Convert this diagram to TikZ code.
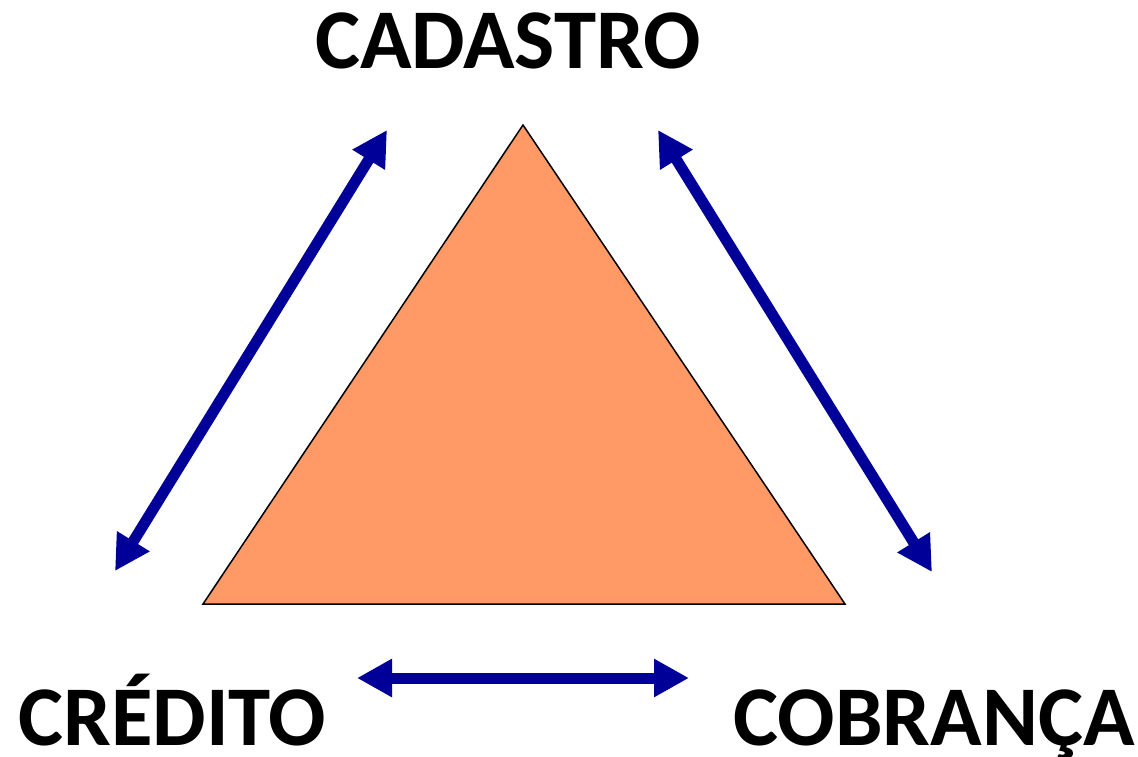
\documentclass[tikz,border=0pt]{standalone}
\usepackage{fontspec}
\setmainfont{Carlito}
\usetikzlibrary{arrows.meta}
\definecolor{arrowblue}{HTML}{000099}
\definecolor{trifill}{HTML}{FF9966}
\tikzset{
  dbl/.style={draw=arrowblue, line width=11pt, {Triangle[length=35pt,width=36pt]}-{Triangle[length=35pt,width=36pt]}, shorten <=0pt, shorten >=0pt},
  lbl/.style={font=\fontsize{85}{88}\selectfont\bfseries, inner sep=0pt, text=black}
}
\begin{document}
\begin{tikzpicture}[x=1pt,y=-1pt]
\useasboundingbox (0,0) rectangle (1138,756);
\coordinate (apex) at (523,125);
\coordinate (bl) at (203,604);
\coordinate (br) at (845,604);
\filldraw[fill=trifill, draw=black, line width=1.5pt] (apex) -- (bl) -- (br) -- cycle;
\coordinate (l1) at (115,571);
\coordinate (l2) at (387,130);
\coordinate (r1) at (658,130);
\coordinate (r2) at (932,572);
\coordinate (b1) at (357,678);
\coordinate (b2) at (689,678);
\draw[dbl] (l1) -- (l2);
\draw[dbl] (r1) -- (r2);
\draw[dbl] (b1) -- (b2);
\node[lbl, anchor=base] (cad) at (508,68) {CADASTRO};
\node[lbl, anchor=base west, text depth=0pt] (cre) at (18,745) {CRÉDITO};
\node[lbl, anchor=base west, text depth=0pt] (cob) at (733,745) {COBRANÇA};
\end{tikzpicture}
\end{document}
